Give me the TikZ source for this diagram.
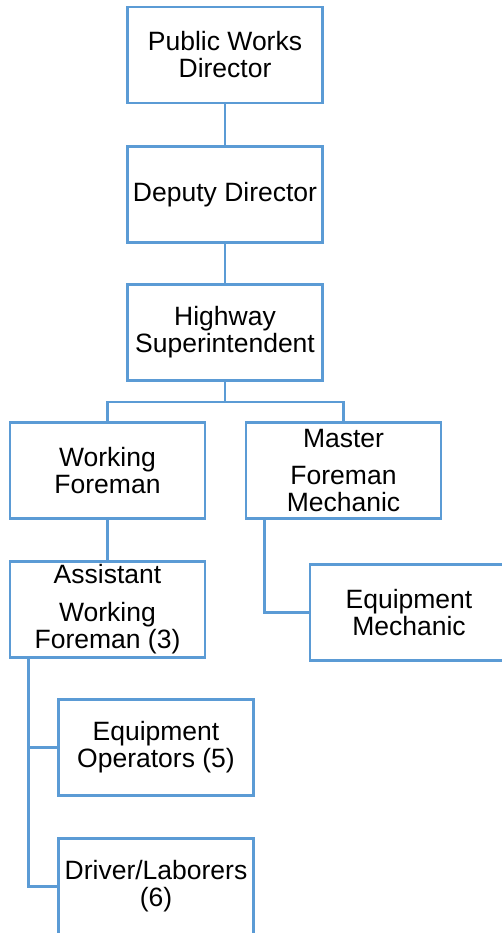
\documentclass[tikz,border=0pt]{standalone}
\usepackage{fontspec}
\setmainfont{Liberation Sans}
\definecolor{orgblue}{HTML}{5B9BD5}
\tikzset{
  orgbox/.style={draw=orgblue, line width=2.8pt, fill=white, minimum width=195pt, minimum height=96pt, inner sep=0pt, align=center, font=\fontsize{26.5}{27}\selectfont},
  orgline/.style={draw=orgblue, line width=2.8pt}
}
\begin{document}
\begin{tikzpicture}[x=1pt,y=-1pt]
\clip (0,0) rectangle (502,933);
\fill[white] (0,0) rectangle (502,933);
\node[orgbox] (pwd) at (225,55) {Public Works\\Director};
\node[orgbox] (dep) at (225,194.5) {Deputy Director};
\node[orgbox] (hwy) at (225,332.5) {Highway\\Superintendent};
\node[orgbox] (wf) at (107.5,470.5) {Working\\Foreman};
\node[orgbox] (mfm) at (343.5,470.5) {Master\\[10pt]Foreman\\Mechanic};
\node[orgbox] (awf) at (107.5,609.5) {Assistant\\[11pt]Working\\Foreman (3)};
\node[orgbox, minimum width=198pt] (em) at (409,612.5) {Equipment\\Mechanic};
\node[orgbox] (eo) at (156,747.5) {Equipment\\Operators (5)};
\node[orgbox] (dl) at (156,886.5) {Driver/Laborers\\(6)};
\draw[orgline] (pwd.south) -- (dep.north);
\draw[orgline] (dep.south) -- (hwy.north);
\draw[orgline] (hwy.south) -- ++(0,20) coordinate (hb) -| (wf.north);
\draw[orgline] (hb) -| (mfm.north);
\draw[orgline] (wf.south) -- (awf.north);
\draw[orgline] ([xshift=20pt]mfm.south west) |- (em.west);
\draw[orgline] ([xshift=20pt]awf.south west) |- (eo.west);
\draw[orgline] ([xshift=20pt]awf.south west) |- (dl.west);
\end{tikzpicture}
\end{document}
